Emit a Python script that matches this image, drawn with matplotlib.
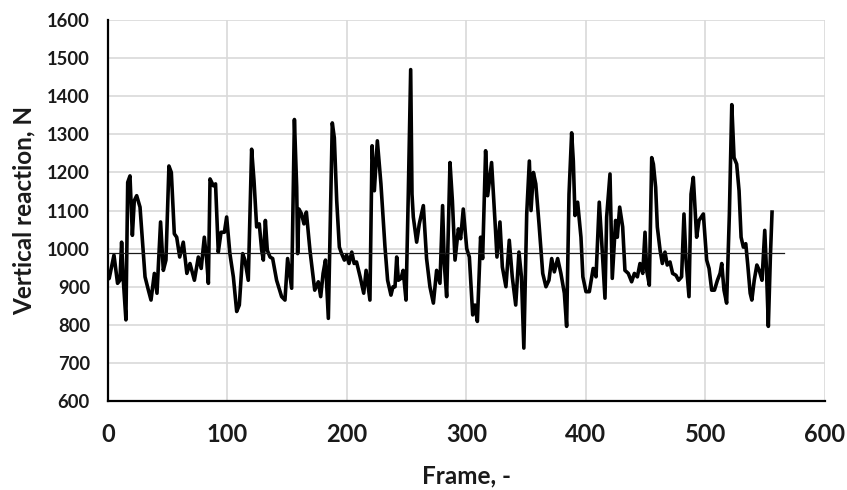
import matplotlib
matplotlib.use("Agg")
import matplotlib.pyplot as plt

plt.rcParams['font.family'] = ['Lato', 'DejaVu Sans']

frames = [0, 1, 5, 8, 10, 11.4, 13, 15, 16.5, 18.4, 20.4, 22, 24, 26.8, 31, 33.8, 36, 38.8, 41, 44, 46.3,
          48.5, 51, 53, 55.5, 57.5, 60, 63, 66, 68.6, 72.3, 75.6, 78, 80.6, 82.6, 84, 85.4, 88.2, 90, 92.3,
          94.6, 97.4, 99.3, 102, 104.9, 107.7, 109.9, 112.7, 114.6, 117.4, 120.2, 122.2, 124.4, 126.6, 128.6,
          130, 131.7, 133.3, 135.6, 137.8, 141.1, 145.3, 148.1, 150.3, 153.7, 156, 157.9, 158.7, 159.8, 162,
          164, 166, 169, 173, 176, 178, 180, 182, 184.4, 187.7, 189.4, 191.4, 193.6, 195.5, 197.8, 199.7,
          201.7, 204, 206, 208, 211, 214, 216, 219.2, 221, 222.9, 225.4, 228.4, 231.8, 234, 236.8, 238.5,
          240.2, 241.6, 243, 245.2, 247, 249.4, 251.3, 253.3, 254.4, 255.5, 258.3, 260.5, 263.9, 266.6,
          269.4, 272.3, 275, 277.8, 280, 281.4, 283.4, 286.2, 288.2, 290.4, 293.2, 295.1, 297.3, 300.2,
          302.4, 305.2, 307.1, 309.1, 311.8, 313.5, 316, 317.7, 321, 324.3, 325.5, 328, 330, 333, 335.8,
          338.3, 341.2, 343.9, 346, 348, 350.4, 352.6, 354, 356, 358, 360.7, 363.8, 366.5, 369, 371.3,
          373.5, 376.3, 379, 381.9, 383.8, 385.8, 388, 389.4, 390.8, 393, 395.8, 397.4, 400, 402.8, 406,
          408.4, 411.1, 413, 415.9, 417.3, 420.1, 422, 424.8, 426.2, 428.2, 430.7, 432.6, 435.4, 438.2,
          440.5, 443, 445.2, 447.5, 449.4, 450.8, 453, 455, 456.4, 458.3, 459.7, 462, 463.9, 466.1, 468,
          470.3, 472.5, 475.3, 477.5, 480, 482, 483.7, 486.2, 487.9, 489.8, 492.6, 494.6, 498.2, 501, 503,
          505.2, 507.5, 510, 512.2, 513.6, 515.5, 517.7, 520, 522, 523.9, 526.1, 528.1, 529.8, 531.7, 533.7,
          535.4, 537.4, 538.8, 540.8, 543, 545, 547.3, 549.6, 551, 552.6, 554.3, 555.7]

reaction = [920, 922, 983, 909, 917, 1017, 909, 813, 1174, 1191, 1035, 1126, 1139, 1109, 926, 891, 865, 935,
            883, 1070, 943, 970, 1217, 1200, 1039, 1030, 978, 1017, 935, 961, 917, 978, 948, 1030, 970, 909,
            1183, 1165, 1170, 991, 1043, 1043, 1083, 987, 926, 835, 852, 987, 970, 917, 1261, 1178, 1057,
            1065, 996, 970, 1074, 996, 978, 974, 917, 874, 865, 974, 896, 1339, 1161, 987, 1104, 1091, 1065,
            1096, 996, 891, 913, 874, 935, 970, 817, 1330, 1291, 1126, 1004, 987, 970, 983, 961, 991, 961,
            965, 926, 883, 943, 865, 1270, 1152, 1283, 1170, 1004, 917, 878, 900, 900, 978, 917, 922, 943,
            865, 1143, 1470, 1143, 1083, 1017, 1065, 1113, 974, 900, 857, 943, 909, 1113, 961, 874, 1226,
            1126, 970, 1052, 1026, 1104, 1000, 978, 826, 852, 809, 1030, 974, 1257, 1139, 1226, 1048, 978,
            1070, 952, 900, 1022, 926, 852, 991, 926, 739, 1091, 1230, 1100, 1200, 1170, 1065, 935, 900,
            917, 974, 939, 974, 935, 883, 796, 1143, 1304, 1230, 1087, 1122, 1030, 926, 887, 887, 948, 926,
            1122, 1026, 870, 1083, 1196, 922, 1074, 1030, 1109, 1057, 943, 935, 913, 935, 926, 961, 935,
            1043, 943, 904, 1239, 1222, 1161, 1057, 996, 961, 991, 957, 965, 935, 930, 917, 926, 1091, 970,
            874, 1143, 1187, 1030, 1074, 1091, 970, 948, 891, 891, 917, 935, 961, 891, 857, 1091, 1378, 1239,
            1222, 1152, 1030, 1004, 1013, 957, 883, 865, 917, 957, 943, 917, 1048, 948, 796, 978, 1096]

mean_value = 988
mean_span = [0, 566]

x_ticks = [0, 100, 200, 300, 400, 500, 600]
y_ticks = [600, 700, 800, 900, 1000, 1100, 1200, 1300, 1400, 1500, 1600]

fig = plt.figure(figsize=(8.47, 4.9), dpi=100)
ax = fig.add_axes([0.1275, 0.1816, 0.974 - 0.1275, 0.959 - 0.1816])

ax.plot(frames, reaction, color='black', linewidth=2.6, solid_joinstyle='round', zorder=3)
ax.plot(mean_span, [mean_value, mean_value], color='#1a1a1a', linewidth=0.9, zorder=4)

ax.set_xlim(0, 600)
ax.set_ylim(600, 1600)
ax.set_xticks(x_ticks)
ax.set_yticks(y_ticks)
ax.grid(True, color='#d9d9d9', linewidth=1.2)
ax.set_axisbelow(True)
for s in ['top', 'right']:
    ax.spines[s].set_visible(False)
for s in ['left', 'bottom']:
    ax.spines[s].set_color('black')
    ax.spines[s].set_linewidth(1.6)
ax.tick_params(axis='y', length=0, pad=13)
ax.tick_params(axis='x', length=0, pad=16)
for lab in ax.get_yticklabels():
    lab.set_fontsize(13.2)
    lab.set_fontweight('bold')
    lab.set_color('#1a1a1a')
for lab in ax.get_xticklabels():
    lab.set_fontsize(17)
    lab.set_fontweight('bold')
    lab.set_color('#1a1a1a')

ax.set_xlabel('Frame, -', fontsize=17.5, fontweight='bold', color='#1a1a1a', labelpad=13)
ax.set_ylabel('Vertical reaction, N', fontsize=17.5, fontweight='bold', color='#1a1a1a', labelpad=8)

fig.savefig('out.png', dpi=100, facecolor='white')
